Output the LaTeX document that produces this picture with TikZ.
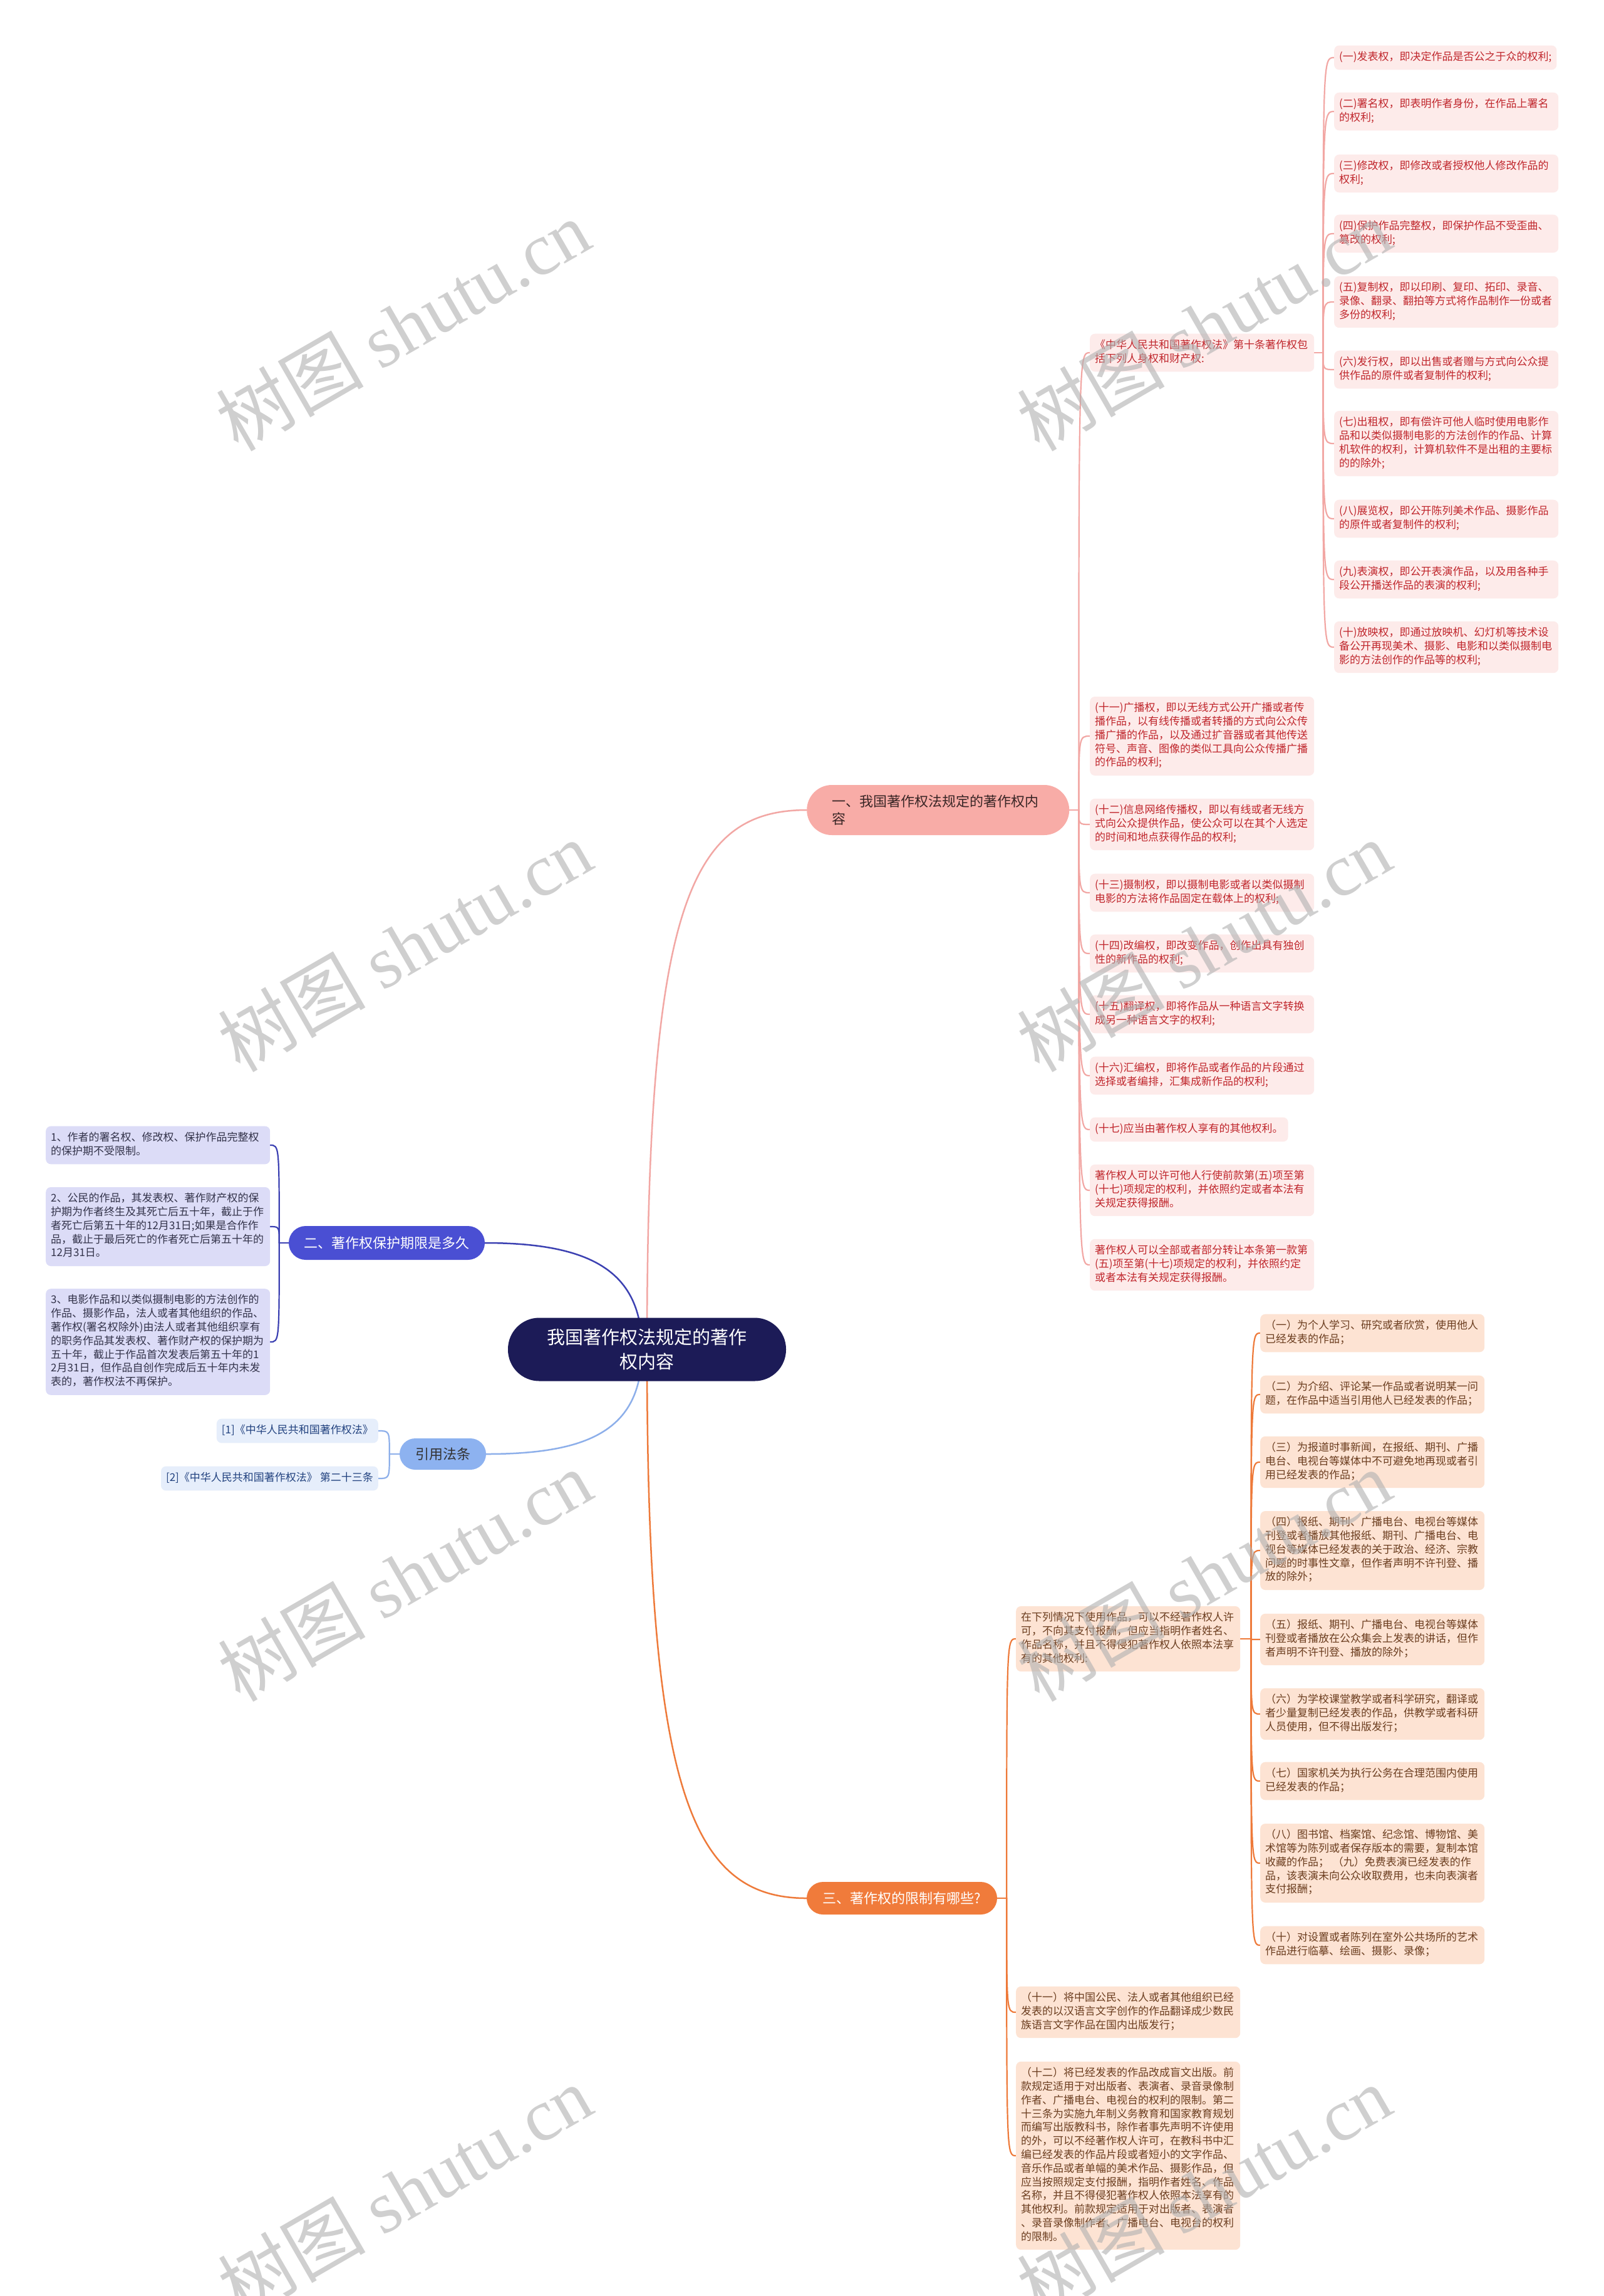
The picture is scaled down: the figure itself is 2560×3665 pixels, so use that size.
\documentclass[tikz,border=0pt]{standalone}
\usepackage{fontspec}
\setmainfont{Noto Sans CJK SC}
\newfontfamily\wmlatin{Liberation Serif}
\usetikzlibrary{calc}
\definecolor{rootfill}{HTML}{1C1B57}
\definecolor{pkbranch}{HTML}{F8ACA7}
\definecolor{pkline}{HTML}{F2A7A4}
\definecolor{pkfill}{HTML}{FDEBEA}
\definecolor{pktext}{HTML}{C0262C}
\definecolor{pkbtext}{HTML}{3A2626}
\definecolor{lvbranch}{HTML}{4A4FD3}
\definecolor{lvline}{HTML}{3C41B2}
\definecolor{lvfill}{HTML}{DCDCF7}
\definecolor{lvtext}{HTML}{33334A}
\definecolor{rfbranch}{HTML}{8DB2F0}
\definecolor{rfline}{HTML}{8DAFEA}
\definecolor{rffill}{HTML}{E6EEFB}
\definecolor{rftext}{HTML}{22427F}
\definecolor{ogbranch}{HTML}{F07B3B}
\definecolor{ogline}{HTML}{EE7A3A}
\definecolor{ogfill}{HTML}{FDE3D3}
\definecolor{ogtext}{HTML}{6B3D1F}
\definecolor{wm}{HTML}{B0B0B0}
\pgfdeclarelayer{bg}
\pgfsetlayers{bg,main}
\newcommand\fsS{\fontsize{17}{21.8}\selectfont}
\newcommand\fsB{\fontsize{22}{28}\selectfont}
\newcommand\fsR{\fontsize{29}{39}\selectfont}
\newcommand\fsW{\fontsize{118}{118}\selectfont}
\begin{document}
\begin{tikzpicture}[x=1pt,y=-1pt,
  leaf/.style={anchor=west, rounded corners=8pt, inner xsep=8pt, inner ysep=8.5pt, font=\fsS, execute at begin node=\strut, execute at end node=\strut},
  leafw/.style={leaf, text width=342pt, align=left},
  pk/.style={leafw, fill=pkfill, text=pktext},
  pkone/.style={leaf, fill=pkfill, text=pktext},
  lv/.style={leafw, fill=lvfill, text=lvtext},
  rf/.style={leaf, anchor=east, fill=rffill, text=rftext},
  og/.style={leafw, fill=ogfill, text=ogtext},
  branch/.style={font=\fsB, inner sep=0pt, align=center},
  conn/.style={line width=2.5pt, line cap=round},
  fan/.style={line width=2.2pt, line cap=round},
  wmark/.style={text=wm, text opacity=0.6, rotate=30, font=\fsW, inner sep=0pt},
]
\useasboundingbox (0,0) rectangle (2560,3665);

% ---------- main nodes ----------
\node[branch, fill=rootfill, text=white, font=\fsR, minimum width=444pt, minimum height=101pt, rounded corners=50pt] (root) at (1033,2154) {我国著作权法规定的著作\\权内容};
\node[branch, fill=pkbranch, text=pkbtext, text width=339pt, align=left, inner xsep=40pt, minimum height=80pt, rounded corners=40pt, anchor=west] (b1) at (1288,1293) {一、我国著作权法规定的著作权内\\容};
\node[branch, fill=lvbranch, text=white, minimum width=313pt, minimum height=54pt, rounded corners=27pt] (b2) at (617.5,1984) {二、著作权保护期限是多久};
\node[branch, fill=rfbranch, text=black!80, minimum width=138pt, minimum height=50pt, rounded corners=25pt] (b4) at (707,2321) {引用法条};
\node[branch, fill=ogbranch, text=white, minimum width=304pt, minimum height=52pt, rounded corners=26pt] (b3) at (1440,3030) {三、著作权的限制有哪些?};

% ---------- branch 1 ----------
\node[pk] (zh) at (1740,563) {《中华人民共和国著作权法》第十条著作权包\\括下列人身权和财产权:};
\node[pkone] (r1) at (2130,92) {(一)发表权，即决定作品是否公之于众的权利;};
\node[pk] (r2) at (2130,178) {(二)署名权，即表明作者身份，在作品上署名\\的权利;};
\node[pk] (r3) at (2130,277) {(三)修改权，即修改或者授权他人修改作品的\\权利;};
\node[pk] (r4) at (2130,373) {(四)保护作品完整权，即保护作品不受歪曲、\\篡改的权利;};
\node[pk] (r5) at (2130,482) {(五)复制权，即以印刷、复印、拓印、录音、\\录像、翻录、翻拍等方式将作品制作一份或者\\多份的权利;};
\node[pk] (r6) at (2130,590) {(六)发行权，即以出售或者赠与方式向公众提\\供作品的原件或者复制件的权利;};
\node[pk] (r7) at (2130,708) {(七)出租权，即有偿许可他人临时使用电影作\\品和以类似摄制电影的方法创作的作品、计算\\机软件的权利，计算机软件不是出租的主要标\\的的除外;};
\node[pk] (r8) at (2130,828) {(八)展览权，即公开陈列美术作品、摄影作品\\的原件或者复制件的权利;};
\node[pk] (r9) at (2130,925) {(九)表演权，即公开表演作品，以及用各种手\\段公开播送作品的表演的权利;};
\node[pk] (r10) at (2130,1033) {(十)放映权，即通过放映机、幻灯机等技术设\\备公开再现美术、摄影、电影和以类似摄制电\\影的方法创作的作品等的权利;};

\node[pk] (c11) at (1740,1175) {(十一)广播权，即以无线方式公开广播或者传\\播作品，以有线传播或者转播的方式向公众传\\播广播的作品，以及通过扩音器或者其他传送\\符号、声音、图像的类似工具向公众传播广播\\的作品的权利;};
\node[pk] (c12) at (1740,1316) {(十二)信息网络传播权，即以有线或者无线方\\式向公众提供作品，使公众可以在其个人选定\\的时间和地点获得作品的权利;};
\node[pk] (c13) at (1740,1425) {(十三)摄制权，即以摄制电影或者以类似摄制\\电影的方法将作品固定在载体上的权利;};
\node[pk] (c14) at (1740,1522) {(十四)改编权，即改变作品，创作出具有独创\\性的新作品的权利;};
\node[pk] (c15) at (1740,1619) {(十五)翻译权，即将作品从一种语言文字转换\\成另一种语言文字的权利;};
\node[pk] (c16) at (1740,1717) {(十六)汇编权，即将作品或者作品的片段通过\\选择或者编排，汇集成新作品的权利;};
\node[pkone] (c17) at (1740,1803) {(十七)应当由著作权人享有的其他权利。};
\node[pk] (cxk) at (1740,1900) {著作权人可以许可他人行使前款第(五)项至第\\(十七)项规定的权利，并依照约定或者本法有\\关规定获得报酬。};
\node[pk] (cqb) at (1740,2019) {著作权人可以全部或者部分转让本条第一款第\\(五)项至第(十七)项规定的权利，并依照约定\\或者本法有关规定获得报酬。};

% ---------- branch 2 ----------
\node[lv] (l1) at (73,1828) {1、作者的署名权、修改权、保护作品完整权\\的保护期不受限制。};
\node[lv] (l2) at (73,1958) {2、公民的作品，其发表权、著作财产权的保\\护期为作者终生及其死亡后五十年，截止于作\\者死亡后第五十年的12月31日;如果是合作作\\品，截止于最后死亡的作者死亡后第五十年的\\12月31日。};
\node[lv] (l3) at (73,2142) {3、电影作品和以类似摄制电影的方法创作的\\作品、摄影作品，法人或者其他组织的作品、\\著作权(署名权除外)由法人或者其他组织享有\\的职务作品其发表权、著作财产权的保护期为\\五十年，截止于作品首次发表后第五十年的1\\2月31日，但作品自创作完成后五十年内未发\\表的，著作权法不再保护。};

% ---------- references ----------
\node[rf] (f1) at (604,2284) {[1]《中华人民共和国著作权法》};
\node[rf] (f2) at (604,2360) {[2]《中华人民共和国著作权法》 第二十三条};

% ---------- branch 3 ----------
\node[og] (o0) at (1622,2616) {在下列情况下使用作品，可以不经著作权人许\\可，不向其支付报酬，但应当指明作者姓名、\\作品名称，并且不得侵犯著作权人依照本法享\\有的其他权利:};
\node[og] (o1) at (2012,2128) {（一）为个人学习、研究或者欣赏，使用他人\\已经发表的作品；};
\node[og] (o2) at (2012,2226) {（二）为介绍、评论某一作品或者说明某一问\\题，在作品中适当引用他人已经发表的作品；};
\node[og] (o3) at (2012,2334) {（三）为报道时事新闻，在报纸、期刊、广播\\电台、电视台等媒体中不可避免地再现或者引\\用已经发表的作品；};
\node[og] (o4) at (2012,2475) {（四）报纸、期刊、广播电台、电视台等媒体\\刊登或者播放其他报纸、期刊、广播电台、电\\视台等媒体已经发表的关于政治、经济、宗教\\问题的时事性文章，但作者声明不许刊登、播\\放的除外；};
\node[og] (o5) at (2012,2617) {（五）报纸、期刊、广播电台、电视台等媒体\\刊登或者播放在公众集会上发表的讲话，但作\\者声明不许刊登、播放的除外；};
\node[og] (o6) at (2012,2736) {（六）为学校课堂教学或者科学研究，翻译或\\者少量复制已经发表的作品，供教学或者科研\\人员使用，但不得出版发行；};
\node[og] (o7) at (2012,2843) {（七）国家机关为执行公务在合理范围内使用\\已经发表的作品；};
\node[og] (o8) at (2012,2974) {（八）图书馆、档案馆、纪念馆、博物馆、美\\术馆等为陈列或者保存版本的需要，复制本馆\\收藏的作品； （九）免费表演已经发表的作\\品，该表演未向公众收取费用，也未向表演者\\支付报酬；};
\node[og] (o10) at (2012,3105) {（十）对设置或者陈列在室外公共场所的艺术\\作品进行临摹、绘画、摄影、录像；};
\node[og] (o11) at (1622,3212) {（十一）将中国公民、法人或者其他组织已经\\发表的以汉语言文字创作的作品翻译成少数民\\族语言文字作品在国内出版发行；};
\node[og] (o12) at (1622,3441) {（十二）将已经发表的作品改成盲文出版。前\\款规定适用于对出版者、表演者、录音录像制\\作者、广播电台、电视台的权利的限制。第二\\十三条为实施九年制义务教育和国家教育规划\\而编写出版教科书，除作者事先声明不许使用\\的外，可以不经著作权人许可，在教科书中汇\\编已经发表的作品片段或者短小的文字作品、\\音乐作品或者单幅的美术作品、摄影作品，但\\应当按照规定支付报酬，指明作者姓名、作品\\名称，并且不得侵犯著作权人依照本法享有的\\其他权利。前款规定适用于对出版者、表演者\\、录音录像制作者、广播电台、电视台的权利\\的限制。};

% ---------- junction coordinates ----------
\coordinate (s1) at ($(b1.east)+(15,0)$);
\coordinate (s2) at ($(zh.east)+(14,0)$);
\coordinate (s3) at ($(b3.east)+(15,0)$);
\coordinate (s4) at ($(o0.east)+(17,0)$);
\coordinate (s5) at ($(b2.west)+(-15,0)$);
\coordinate (s6) at ($(b4.west)+(-16,0)$);
\coordinate (rl) at ($(root.center)+(-8,0)$);

% ---------- connectors ----------
\begin{pgfonlayer}{bg}
\fill[white] (0,0) rectangle (2560,3665);
\draw[conn, pkline] (root.center) .. controls (1033,1450) and (1100,1293) .. (b1.west);
\draw[conn, lvline] (b2.east) .. controls (945,1984) and (1025,2030) .. (rl);
\draw[conn, rfline] (b4.east) .. controls (945,2321) and (1025,2280) .. (rl);
\draw[conn, ogline] (root.center) .. controls (1033,2850) and (1100,3030) .. (b3.west);

\draw[fan, pkline] (b1.east) -- (s1);
\foreach \n in {zh,c11,c12,c13,c14,c15,c16,c17,cxk,cqb}
  \draw[fan, pkline] (s1) .. controls (s1 |- \n.west) .. (\n.west);
\draw[fan, pkline] (zh.east) -- (s2);
\foreach \n in {r1,r2,r3,r4,r5,r6,r7,r8,r9,r10}
  \draw[fan, pkline] (s2) .. controls (s2 |- \n.west) .. (\n.west);

\draw[fan, lvline] (b2.west) -- (s5);
\foreach \n in {l1,l2,l3}
  \draw[fan, lvline] (s5) .. controls (s5 |- \n.east) .. (\n.east);

\draw[fan, rfline] (b4.west) -- (s6);
\foreach \n in {f1,f2}
  \draw[fan, rfline] (s6) .. controls (s6 |- \n.east) .. (\n.east);

\draw[fan, ogline] (b3.east) -- (s3);
\foreach \n in {o0,o11,o12}
  \draw[fan, ogline] (s3) .. controls (s3 |- \n.west) .. (\n.west);
\draw[fan, ogline] (o0.east) -- (s4);
\foreach \n in {o1,o2,o3,o4,o5,o6,o7,o8,o10}
  \draw[fan, ogline] (s4) .. controls (s4 |- \n.west) .. (\n.west);
\end{pgfonlayer}

% ---------- watermarks ----------
\node[wmark] (wa) at (643,519) {树图 {\wmlatin shutu.cn}};
\node[wmark] (wb) at (646,1510) {树图 {\wmlatin shutu.cn}};
\node[wmark] (wc) at (646,2515) {树图 {\wmlatin shutu.cn}};
\node[wmark] (wd) at (646,3497) {树图 {\wmlatin shutu.cn}};
\node[wmark] (we) at (1922,519) {树图 {\wmlatin shutu.cn}};
\node[wmark] (wf) at (1922,1510) {树图 {\wmlatin shutu.cn}};
\node[wmark] (wg) at (1922,2515) {树图 {\wmlatin shutu.cn}};
\node[wmark] (wh) at (1922,3497) {树图 {\wmlatin shutu.cn}};
\end{tikzpicture}
\end{document}
